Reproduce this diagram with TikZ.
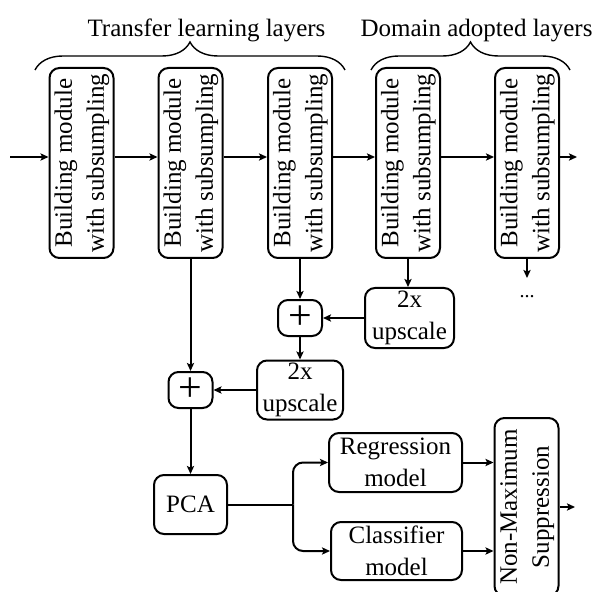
\documentclass[tikz,border=0pt]{standalone}
\usepackage{fontspec}
\setmainfont{Liberation Serif}
\usepackage{graphicx}
\usetikzlibrary{arrows.meta}
\usetikzlibrary{decorations.pathreplacing}

\newcommand{\vlabel}[2]{\rotatebox{90}{\begin{tabular}{@{}c@{}}#1\\#2\end{tabular}}}

\begin{document}
\begin{tikzpicture}[x=0.5pt,y=-0.5pt,
  every node/.style={font=\fontsize{12.5}{16}\selectfont},
  blk/.style={draw,rounded corners=5pt,line width=1pt,align=center,inner sep=0pt},
  modblk/.style={blk,minimum width=31pt,minimum height=95pt},
  sumblk/.style={blk,minimum width=22pt,minimum height=18pt,font=\fontsize{21}{21}\selectfont},
  conn/.style={line width=1pt,-{Stealth[length=4pt,width=3.6pt,inset=0.8pt]}}]
\useasboundingbox (0,0) rectangle (592,592);
% main chain of modules
\node[modblk] (b1) at (81.5,163) {\vlabel{Building module}{with subsumpling}};
\node[modblk] (b2) at (190.5,163) {\vlabel{Building module}{with subsumpling}};
\node[modblk] (b3) at (300,163) {\vlabel{Building module}{with subsumpling}};
\node[modblk] (b4) at (408,163) {\vlabel{Building module}{with subsumpling}};
\node[modblk] (b5) at (527,163) {\vlabel{Building module}{with subsumpling}};
\node[anchor=base] (tl) at (206.5,37) {Transfer learning layers};
\node[anchor=base] (dl) at (476.5,37) {Domain adopted layers};
\begin{scope}[decoration={brace,amplitude=14pt}]
\draw[decorate,line width=0.7pt] (35,70) -- (345,70);
\draw[decorate,line width=0.7pt] (371,70) -- (570,70);
\end{scope}
% feature merging
\node[blk,minimum width=44.5pt,minimum height=30pt] (up1) at (409.5,318) {2x\\upscale};
\node[sumblk] (s1) at (300,318) {+};
\node[blk,minimum width=43pt,minimum height=29.5pt] (up2) at (300,390) {2x\\upscale};
\node[sumblk] (s2) at (190.5,390) {+};
\node[anchor=base,font=\fontsize{10}{10}\selectfont] (dots) at (527,298) {...};
% heads
\node[blk,minimum width=36.5pt,minimum height=29.5pt] (pca) at (190.5,504.5) {PCA};
\node[blk,minimum width=66.5pt,minimum height=29.5pt] (reg) at (395.5,462.5) {Regression\\model};
\node[blk,minimum width=65.5pt,minimum height=29pt] (cls) at (396.5,551) {Classifier\\model};
\node[blk,minimum width=29.5pt,minimum height=89pt] (nms) at (526.5,507) {\vlabel{Non-Maximum}{Suppression}};
% connectors
\coordinate (in) at (10,157);
\coordinate (out) at (577,157);
\draw[conn] (in) -- ([yshift=3pt]b1.west);
\foreach \a/\b in {b1/b2,b2/b3,b3/b4,b4/b5}
  \draw[conn] ([yshift=3pt]\a.east) -- ([yshift=3pt]\b.west);
\draw[conn] ([yshift=3pt]b5.east) -- (out);
\coordinate (b5d) at (527,278);
\draw[conn] (b5.south) -- (b5d);
\draw[conn] (b3.south) -- (s1.north);
\draw[conn] (b4.south) -- (b4.south |- up1.north);
\draw[conn] (up1.west) -- (s1.east);
\draw[conn] (s1.south) -- (up2.north);
\draw[conn] (b2.south) -- (s2.north);
\draw[conn] (up2.west) -- (s2.east);
\draw[conn] (s2.south) -- (pca.north);
\coordinate (split) at (293,504.5);
\draw[line width=1pt] (pca.east) -- (split);
\draw[conn,rounded corners=5pt] (split) |- (reg.west);
\draw[conn,rounded corners=5pt] (split) |- (cls.west);
\draw[conn] (reg.east) -- (reg.east -| nms.west);
\draw[conn] (cls.east) -- (cls.east -| nms.west);
\coordinate (res) at (575,507);
\draw[conn] (nms.east) -- (res);
\end{tikzpicture}
\end{document}
